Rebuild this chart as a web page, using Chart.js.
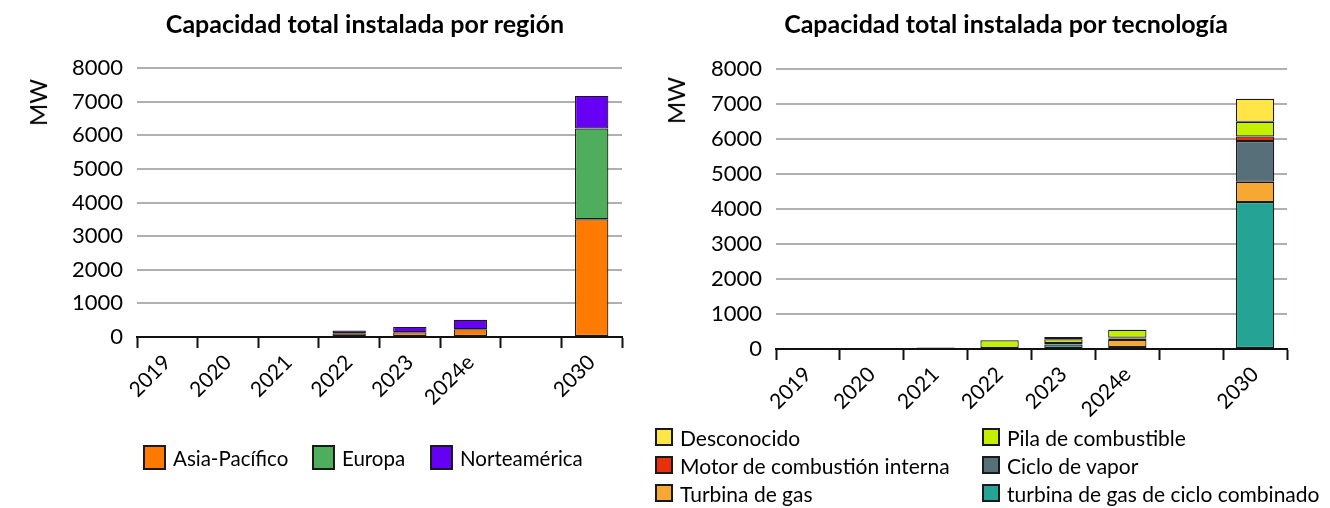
<!DOCTYPE html>
<html>
<head>
<meta charset="utf-8">
<script src="https://cdn.jsdelivr.net/npm/chart.js@4"></script>
<style>
  body { margin: 0; width: 1330px; height: 508px; background: #fff; position: relative; overflow: hidden; font-family: Lato, sans-serif; color: #000; }
  .box { position: absolute; top: 0; height: 508px; }
  .title { position: absolute; top: 8px; font-weight: bold; font-size: 25px; white-space: nowrap; transform: translateX(-50%); }
  .unit { position: absolute; font-size: 24px; transform: rotate(-90deg); transform-origin: center; }
  .leg { position: absolute; white-space: nowrap; display: flex; align-items: center; }
  .leg span.sw { display: inline-block; border: 2px solid #1a1a1a; box-sizing: border-box; margin-right: 7px; }
</style>
</head>
<body>
<div class="box" style="left:0;width:640px"><canvas id="regionChart" width="640" height="508"></canvas></div>
<div class="box" style="left:640px;width:690px"><canvas id="techChart" width="690" height="508"></canvas></div>
<div class="title" style="left:365px">Capacidad total instalada por región</div>
<div class="title" style="left:1006px">Capacidad total instalada por tecnología</div>
<div class="unit" style="left:14px;top:88px">MW</div>
<div class="unit" style="left:652px;top:86px">MW</div>
<div id="legendRegion"></div>
<div id="legendTech"></div>
<script>
// ── DATA ────────────────────────────────────────────────────
const categories = ["2019", "2020", "2021", "2022", "2023", "2024e", "", "2030"];
const yTicks = [0, 1000, 2000, 3000, 4000, 5000, 6000, 7000, 8000];

// por región (MW)
const asiaPacifico = [0, 0, 0, 110, 140, 230, 0, 3500];
const europa       = [0, 0, 0, 0, 0, 0, 0, 2700];
const norteamerica = [0, 0, 0, 80, 160, 280, 0, 970];

// por tecnología (MW)
const ccgt         = [0, 0, 0, 0, 130, 60, 0, 4200];
const turbinaGas   = [0, 0, 0, 0, 0, 200, 0, 580];
const cicloVapor   = [0, 0, 40, 0, 40, 40, 0, 1160];
const motorCI      = [20, 30, 0, 0, 0, 20, 0, 130];
const pila         = [0, 0, 0, 250, 110, 230, 0, 420];
const desconocido  = [0, 0, 0, 0, 60, 0, 0, 660];

const regionSeries = [
  { label: "Asia-Pacífico", data: asiaPacifico, color: "#ff7a00" },
  { label: "Europa",        data: europa,       color: "#4fae5b" },
  { label: "Norteamérica",  data: norteamerica, color: "#6600f5" },
];
// stacking order bottom → top
const techSeries = [
  { label: "turbina de gas de ciclo combinado", data: ccgt,        color: "#25a394" },
  { label: "Turbina de gas",                    data: turbinaGas,  color: "#f7a832" },
  { label: "Ciclo de vapor",                    data: cicloVapor,  color: "#576f78" },
  { label: "Motor de combustión interna",       data: motorCI,     color: "#e8300c" },
  { label: "Pila de combustible",               data: pila,        color: "#c4f000" },
  { label: "Desconocido",                       data: desconocido, color: "#ffe545" },
];

// ── CHART ───────────────────────────────────────────────────
function makeChart(id, series, opt) {
  const ctx = document.getElementById(id).getContext("2d");
  return new Chart(ctx, {
    type: "bar",
    data: {
      labels: categories,
      datasets: series.map(s => ({
        label: s.label,
        data: s.data.map(v => v || null),
        backgroundColor: s.color,
        borderColor: "#1a1a1a",
        borderWidth: 1.2,
        borderSkipped: false,
        barPercentage: opt.barPct,
        categoryPercentage: 1,
      })),
    },
    options: {
      responsive: false,
      animation: false,
      layout: { padding: opt.padding },
      plugins: { legend: { display: false }, title: { display: false }, tooltip: { enabled: false } },
      scales: {
        x: {
          stacked: true,
          afterFit: s => { s.height = 100; },
          border: { color: "#111", width: 2 },
          grid: { offset: true, drawOnChartArea: false, tickColor: "#111", tickWidth: 2, tickLength: 11 },
          ticks: { color: "#000", font: { family: "Lato", size: 21 }, minRotation: 45, maxRotation: 45, padding: 2, autoSkip: false },
        },
        y: {
          stacked: true,
          min: 0, max: 8000,
          afterFit: s => { s.width = opt.yWidth; },
          afterBuildTicks: s => { s.ticks = yTicks.map(v => ({ value: v })); },
          border: { display: false },
          grid: { color: "#b0b0b0", lineWidth: 2, drawTicks: false },
          ticks: { color: "#000", font: { family: "Lato", size: 22 }, padding: 14, callback: v => String(v) },
        },
      },
    },
  });
}

makeChart("regionChart", regionSeries, { barPct: 0.55, yWidth: 137, padding: { top: 68, right: 18, bottom: 71, left: 0 } });
makeChart("techChart", techSeries, { barPct: 0.6, yWidth: 136, padding: { top: 69, right: 43, bottom: 59, left: 0 } });

// ── LEGENDS (html) ──────────────────────────────────────────
function legendItem(s, x, y, w, h, fs) {
  return `<div class="leg" style="left:${x}px;top:${y}px;height:${h}px;font-size:${fs}px">
    <span class="sw" style="width:${w}px;height:${h}px;background:${s.color}"></span>${s.label}</div>`;
}
document.getElementById("legendRegion").innerHTML =
  legendItem(regionSeries[0], 143, 445, 23, 25, 20.5) +
  legendItem(regionSeries[1], 312, 445, 23, 25, 20.5) +
  legendItem(regionSeries[2], 430, 445, 23, 25, 20.5);

const techLegend = [
  [techSeries[5], 655, 428], [techSeries[4], 982, 428],
  [techSeries[3], 655, 456], [techSeries[2], 982, 456],
  [techSeries[1], 655, 484], [techSeries[0], 982, 484],
];
document.getElementById("legendTech").innerHTML =
  techLegend.map(([s, x, y]) => legendItem(s, x, y, 18, 18, 21)).join("");
</script>
</body>
</html>
